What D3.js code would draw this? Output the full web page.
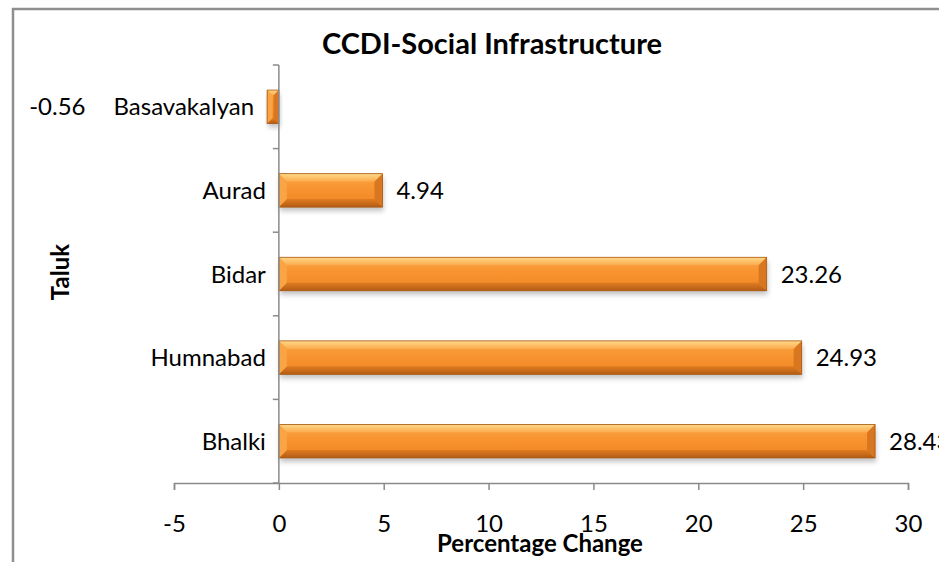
<!DOCTYPE html>
<html>
<head>
<meta charset="utf-8">
<script src="https://cdn.jsdelivr.net/npm/d3@7"></script>
<style>
  html, body { margin: 0; padding: 0; background: #fff; }
  svg { display: block; font-family: Lato, "Noto Sans", sans-serif; }
</style>
</head>
<body>
<svg id="chart" width="939" height="562"></svg>
<script>
// CCDI – Social Infrastructure, percentage change by taluk
const taluks = ["Basavakalyan", "Aurad", "Bidar", "Humnabad", "Bhalki"];
const changes = [-0.56, 4.94, 23.26, 24.93, 28.43];
const xTicks = [-5, 0, 5, 10, 15, 20, 25, 30];
const chartTitle = "CCDI-Social Infrastructure";
const xTitle = "Percentage Change";
const yTitle = "Taluk";

const svg = d3.select("#chart");
const W = 939, H = 562;
const plot = { left: 174, right: 908, top: 65, bottom: 483 };
const axisColor = "#8a8a8a";
const fontSize = 24;
// plain hyphen for negatives
const fmtInt = d => String(d);
const fmtVal = d => d.toFixed(2);

// outer chart frame (runs past the right and bottom edges)
svg.append("rect")
  .attr("x", 13).attr("y", 9)
  .attr("width", W + 20).attr("height", H + 20)
  .attr("fill", "none").attr("stroke", "#8f8f8f").attr("stroke-width", 2.5);

const x = d3.scaleLinear().domain([-5, 30]).range([plot.left, plot.right]);
const y = d3.scaleBand().domain(taluks).range([plot.top, plot.bottom])
  .paddingInner(0.6).paddingOuter(0.3);

// gradients and shadow for the bevelled bars
const defs = svg.append("defs");
function vGrad(id, stops) {
  const g = defs.append("linearGradient").attr("id", id)
    .attr("x1", 0).attr("y1", 0).attr("x2", 0).attr("y2", 1);
  stops.forEach(([o, c]) => g.append("stop").attr("offset", o).attr("stop-color", c));
}
vGrad("bodyGrad", [[0, "#FBA443"], [0.5, "#F7922E"], [1, "#EE8624"]]);
vGrad("topGrad", [[0, "#FFD98A"], [1, "#FBAA4C"]]);
vGrad("botGrad", [[0, "#E07C20"], [1, "#B35C16"]]);
const blur = defs.append("filter").attr("id", "shadow")
  .attr("x", "-20%").attr("y", "-50%").attr("width", "140%").attr("height", "200%");
blur.append("feGaussianBlur").attr("stdDeviation", 2.5);

const rows = taluks.map((t, i) => ({ taluk: t, value: changes[i] }));

const bars = svg.append("g").selectAll("g.bar")
  .data(rows)
  .join("g").attr("class", "bar");

bars.each(function (d) {
  const g = d3.select(this);
  const x0 = Math.min(x(0), x(d.value)), x1 = Math.max(x(0), x(d.value));
  const y0 = y(d.taluk), y1 = y0 + y.bandwidth();
  const w = x1 - x0, h = y1 - y0;
  const b = Math.min(8, w / 2.2, h / 3.5);

  g.append("rect").attr("x", x0 + 1).attr("y", y0 + 4).attr("width", w).attr("height", h)
    .attr("fill", "#7a7a7a").attr("opacity", 0.45).attr("filter", "url(#shadow)");
  g.append("rect").attr("x", x0).attr("y", y0).attr("width", w).attr("height", h)
    .attr("fill", "url(#bodyGrad)");
  const poly = (pts, fill) => g.append("polygon")
    .attr("points", pts.map(p => p.join(",")).join(" ")).attr("fill", fill);
  poly([[x0, y0], [x1, y0], [x1 - b, y0 + b], [x0 + b, y0 + b]], "url(#topGrad)");
  poly([[x0, y1], [x1, y1], [x1 - b, y1 - b], [x0 + b, y1 - b]], "url(#botGrad)");
  poly([[x0, y0], [x0 + b, y0 + b], [x0 + b, y1 - b], [x0, y1]], "#F9A445");
  poly([[x1, y0], [x1 - b, y0 + b], [x1 - b, y1 - b], [x1, y1]], "#D8771F");
  g.append("rect").attr("x", x0).attr("y", y0).attr("width", w).attr("height", h)
    .attr("fill", "none").attr("stroke", "#A85810").attr("stroke-width", 0.8);
});

// y axis (category boundaries as ticks)
const yAxisG = svg.append("g").attr("stroke", axisColor).attr("stroke-width", 1.5);
yAxisG.append("line").attr("x1", x(0)).attr("x2", x(0))
  .attr("y1", plot.top).attr("y2", plot.bottom);
const bounds = taluks.map(t => y(t) - y.step() * y.paddingInner() / 2)
  .concat([plot.bottom]);
yAxisG.selectAll("line.tick").data(bounds).join("line").attr("class", "tick")
  .attr("x1", x(0) - 6).attr("x2", x(0)).attr("y1", d => d).attr("y2", d => d);

// x axis
const xAxis = d3.axisBottom(x).tickValues(xTicks).tickSize(7).tickFormat(fmtInt);
const xg = svg.append("g").attr("transform", `translate(0,${plot.bottom})`).call(xAxis);
xg.select(".domain").attr("stroke", axisColor).attr("stroke-width", 1.5);
xg.selectAll(".tick line").attr("stroke", axisColor).attr("stroke-width", 1.5);
xg.selectAll(".tick text").attr("font-family", "Lato, sans-serif")
  .attr("font-size", fontSize).attr("fill", "#000").attr("dy", 0).attr("y", 49);

// category labels
const catLabels = svg.append("g").selectAll("text")
  .data(rows)
  .join("text")
  .attr("x", d => Math.min(x(0), x(d.value)) - 13)
  .attr("y", d => y(d.taluk) + y.bandwidth() / 2)
  .attr("dy", "0.36em")
  .attr("text-anchor", "end")
  .attr("font-size", fontSize)
  .text(d => d.taluk);

// value labels
const valLabels = svg.append("g").selectAll("text")
  .data(rows)
  .join("text")
  .attr("y", d => y(d.taluk) + y.bandwidth() / 2)
  .attr("dy", "0.36em")
  .attr("font-size", fontSize)
  .text(d => fmtVal(d.value));

valLabels.each(function (d, i) {
  const t = d3.select(this);
  if (d.value >= 0) {
    t.attr("x", x(d.value) + 14).attr("text-anchor", "start");
  } else {
    const cat = catLabels.nodes()[i];
    const end = +cat.getAttribute("x") - cat.getComputedTextLength() - 28;
    t.attr("x", end).attr("text-anchor", "end");
  }
});

// titles
svg.append("text").attr("x", 492).attr("y", 54).attr("text-anchor", "middle")
  .attr("font-size", 29).attr("font-weight", "bold").text(chartTitle);
svg.append("text").attr("x", 540).attr("y", 552).attr("text-anchor", "middle")
  .attr("font-size", 24).attr("font-weight", "bold").text(xTitle);
svg.append("text").attr("transform", "translate(69,272) rotate(-90)")
  .attr("text-anchor", "middle").attr("font-size", 24).attr("font-weight", "bold")
  .text(yTitle);
</script>
</body>
</html>
